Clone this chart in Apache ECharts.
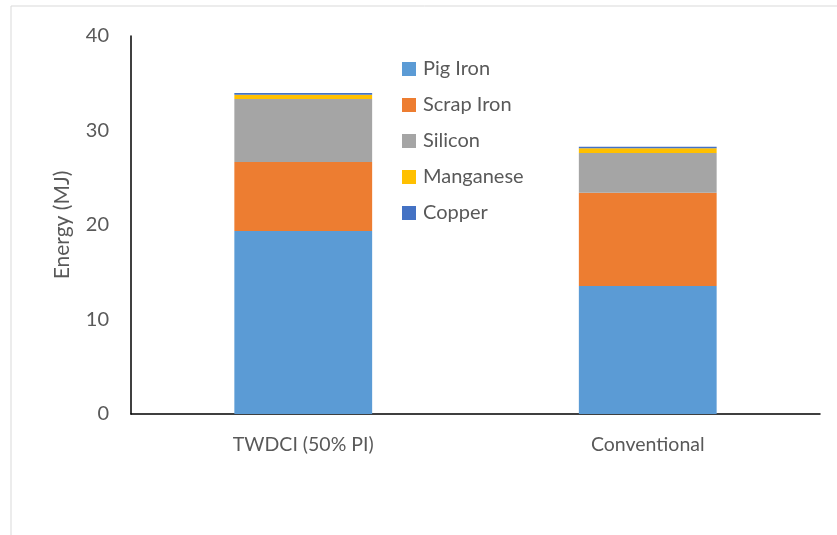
<!DOCTYPE html>
<html>
<head>
<meta charset="utf-8">
<script src="https://cdn.jsdelivr.net/npm/echarts@6/dist/echarts.min.js"></script>
<style>
html,body{margin:0;padding:0;background:#fff;}
#chart{width:837px;height:535px;}
</style>
</head>
<body>
<div id="chart"></div>
<script>
var categories = ['TWDCI (50% PI)', 'Conventional'];
var seriesNames = ['Pig Iron', 'Scrap Iron', 'Silicon', 'Manganese', 'Copper'];
var pigIron = [19.37, 13.54];
var scrapIron = [7.30, 9.87];
var silicon = [6.67, 4.20];
var manganese = [0.45, 0.50];
var copper = [0.17, 0.17];
var yTicks = [0, 10, 20, 30, 40];
var colors = ['#5B9BD5', '#ED7D31', '#A5A5A5', '#FFC000', '#4472C4'];

var values = [pigIron, scrapIron, silicon, manganese, copper];
var font = 'Lato, "Open Sans", sans-serif';

var chart = echarts.init(document.getElementById('chart'), null, {renderer: 'canvas'});
chart.setOption({
  animation: false,
  backgroundColor: '#fff',
  graphic: [{
    type: 'rect',
    shape: {x: 11, y: 6, width: 900, height: 700},
    style: {fill: 'none', stroke: '#D9D9D9', lineWidth: 1},
    silent: true
  }],
  grid: {left: 131, right: 17, top: 36, bottom: 121},
  legend: {
    orient: 'vertical',
    left: 402,
    top: 59,
    padding: 0,
    itemWidth: 14,
    itemHeight: 14,
    itemGap: 16,
    icon: 'rect',
    data: seriesNames,
    textStyle: {fontFamily: font, fontSize: 20, color: '#595959', lineHeight: 20, padding: [0, 0, 0, 2]}
  },
  xAxis: {
    type: 'category',
    data: categories,
    axisLine: {lineStyle: {color: '#000', width: 1.5}},
    axisTick: {show: false},
    axisLabel: {fontFamily: font, fontSize: 19.5, color: '#595959', margin: 21}
  },
  yAxis: {
    type: 'value',
    min: yTicks[0],
    max: yTicks[yTicks.length - 1],
    interval: 10,
    name: 'Energy (MJ)',
    nameLocation: 'middle',
    nameGap: 58,
    nameTextStyle: {fontFamily: font, fontSize: 21, color: '#595959'},
    axisLine: {show: true, lineStyle: {color: '#000', width: 1.5}},
    axisTick: {show: false},
    splitLine: {show: false},
    axisLabel: {fontFamily: font, fontSize: 20, color: '#595959', margin: 22}
  },
  series: seriesNames.map(function (n, i) {
    return {
      name: n,
      type: 'bar',
      stack: 'total',
      barWidth: '40%',
      data: values[i],
      itemStyle: {color: colors[i]}
    };
  })
});
</script>
</body>
</html>
